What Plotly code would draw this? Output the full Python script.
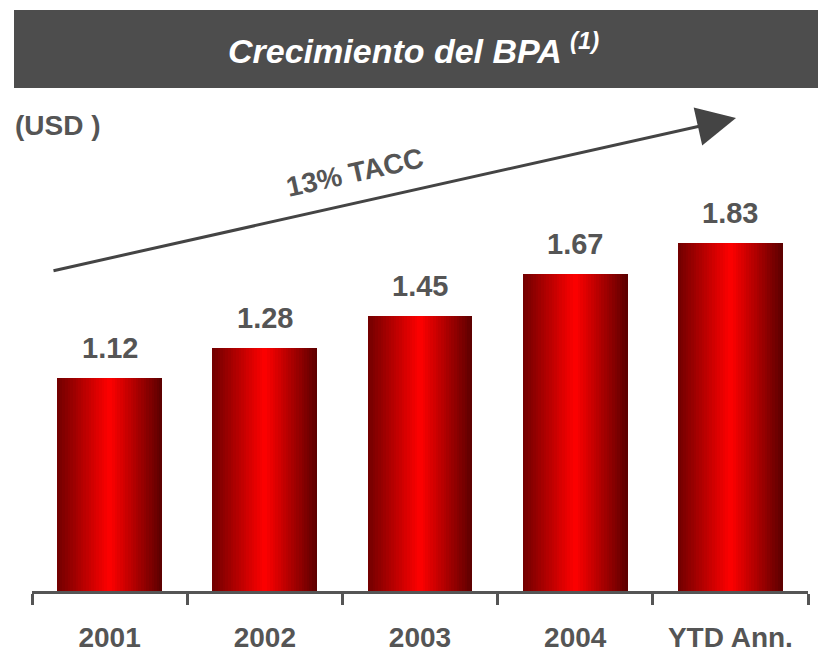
import plotly.graph_objects as go

# ---- data ----
categories = ["2001", "2002", "2003", "2004", "YTD Ann."]
eps_values = [1.12, 1.28, 1.45, 1.67, 1.83]
value_labels = ["1.12", "1.28", "1.45", "1.67", "1.83"]
title_text = "Crecimiento del BPA"
unit_text = "(USD )"
cagr_text = "13% TACC"

# ---- layout geometry (pixels, measured in the page; page body has 8px margin) ----
OFF = 8
W, H = 826 - OFF, 651 - OFF
PLOT_L, PLOT_R, PLOT_T, PLOT_B = 32, 808, 135, 591   # page pixels
L, R, T, B = PLOT_L - OFF, W - (PLOT_R - OFF), PLOT_T - OFF, H - (PLOT_B - OFF)
PW, PH = W - L - R, H - T - B
FONT = "Liberation Sans, Arial, sans-serif"
GRAY = "#555555"


def px(x):
    return (x - PLOT_L) / PW


def py(y):
    return (PLOT_B - y) / PH


# category names shown in bold on the axis
cat_display = ["<b>%s</b>" % c for c in categories]

fig = go.Figure()

# gradient bars: overlay thin slices
BAR_W = 0.676
N = 40
stops = [(0.0, (112, 0, 0)), (0.5, (255, 0, 0)), (1.0, (90, 0, 0))]


def col(t):
    for (t0, c0), (t1, c1) in zip(stops[:-1], stops[1:]):
        if t <= t1:
            f = (t - t0) / (t1 - t0)
            return "rgb(%d,%d,%d)" % tuple(round(a + (b - a) * f) for a, b in zip(c0, c1))
    return "rgb(%d,%d,%d)" % stops[-1][1]


sw = BAR_W / N
for i in range(N):
    t = (i + 0.5) / N
    w = sw * 1.6 if i < N - 1 else sw
    fig.add_trace(go.Bar(
        x=cat_display, y=eps_values,
        width=w, offset=-BAR_W / 2 + i * sw,
        marker=dict(color=col(t), line=dict(width=0)),
        hoverinfo="skip", showlegend=False,
    ))

annotations = []
for idx, (v, lab) in enumerate(zip(eps_values, value_labels)):
    annotations.append(dict(
        x=idx, y=v, xref="x", yref="y", text="<b>%s</b>" % lab, showarrow=False,
        yanchor="bottom", yshift=12, font=dict(family=FONT, size=29, color=GRAY),
    ))

# title
annotations.append(dict(
    x=px(413), y=py(49), xref="paper", yref="paper",
    text="<b><i>%s <sup>(1)</sup></i></b>" % title_text, showarrow=False,
    xanchor="center", yanchor="middle", font=dict(family=FONT, size=34, color="white"),
))
# unit
annotations.append(dict(
    x=px(13), y=py(125), xref="paper", yref="paper",
    text="<b>%s</b>" % unit_text, showarrow=False,
    xanchor="left", yanchor="middle", font=dict(family=FONT, size=28, color=GRAY),
))
# CAGR arrow
annotations.append(dict(
    x=px(736), y=py(118), xref="paper", yref="paper", text="",
    showarrow=True, ax=52 - 736, ay=271 - 118, arrowhead=2, arrowsize=2.6,
    arrowwidth=3, arrowcolor="#444444", standoff=0,
))
annotations.append(dict(
    x=px(355), y=py(172), xref="paper", yref="paper",
    text="<b>%s</b>" % cagr_text, showarrow=False, textangle=-12.5,
    xanchor="center", yanchor="middle", font=dict(family=FONT, size=28, color=GRAY),
))

shapes = [dict(
    type="rect", xref="paper", yref="paper",
    x0=px(14), x1=px(830), y0=py(88), y1=py(10),
    fillcolor="#4d4d4d", line=dict(width=0), layer="below",
)]

fig.update_layout(
    width=W, height=H,
    margin=dict(l=L, r=R, t=T, b=B, autoexpand=False),
    paper_bgcolor="white", plot_bgcolor="white",
    barmode="overlay", bargap=0,
    showlegend=False,
    annotations=annotations, shapes=shapes,
    font=dict(family=FONT),
)
fig.update_xaxes(
    type="category", categoryorder="array", categoryarray=cat_display,
    range=[-0.5, len(categories) - 0.5], automargin=False,
    showline=True, linecolor=GRAY, linewidth=3,
    ticks="outside", tickson="boundaries", ticklen=11, tickwidth=3, tickcolor=GRAY,
    tickfont=dict(family=FONT, size=28, color=GRAY), tickangle=0,
    ticklabelstandoff=19, showgrid=False, zeroline=False,
)
fig.update_yaxes(range=[0, 2.4], visible=False, showgrid=False, zeroline=False,
                 automargin=False)

fig.write_html("out.html")
